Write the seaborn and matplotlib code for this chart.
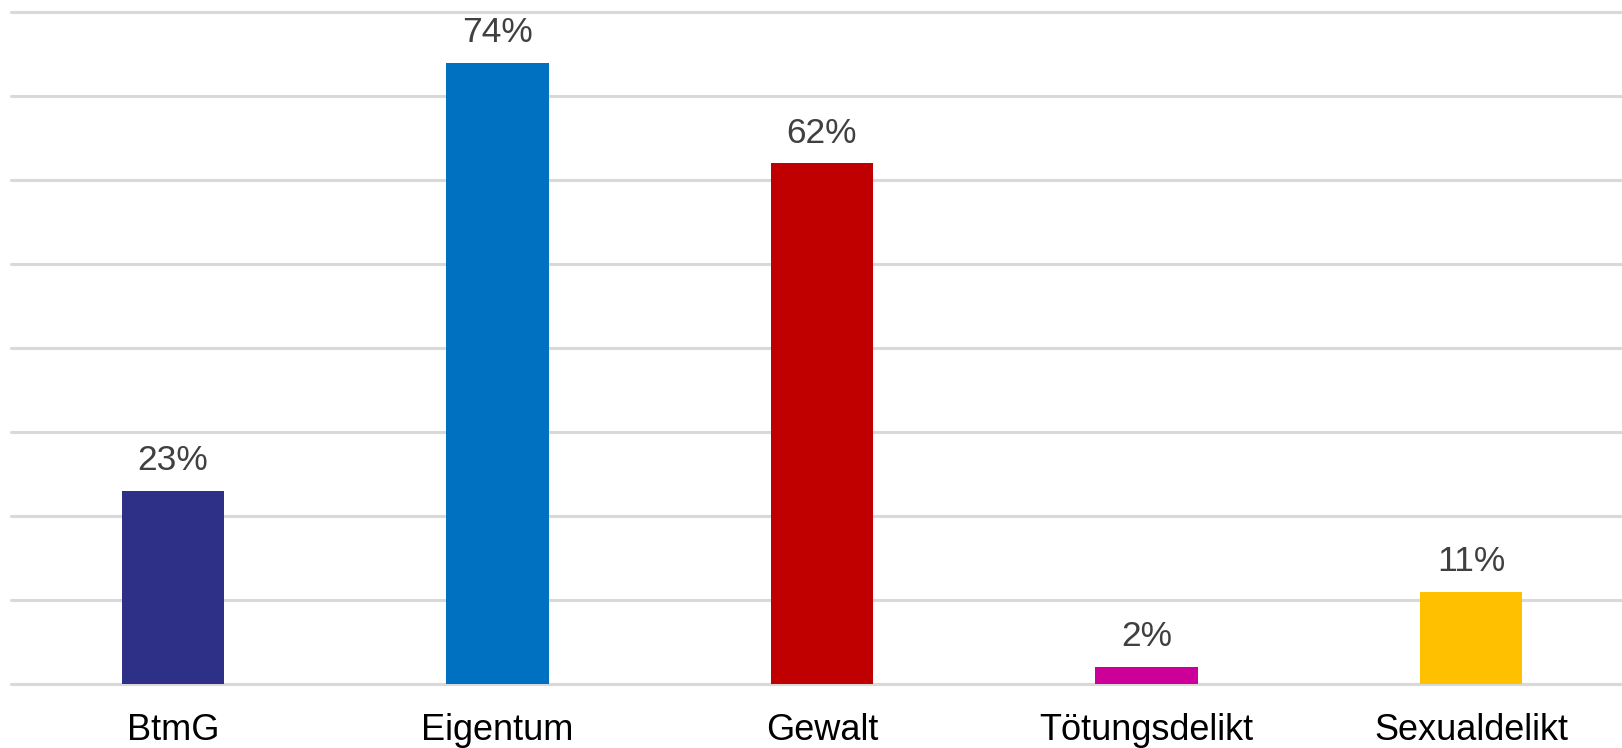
import matplotlib
matplotlib.use("Agg")
import matplotlib.pyplot as plt
import seaborn as sns
import pandas as pd

categories = ["BtmG", "Eigentum", "Gewalt", "Tötungsdelikt", "Sexualdelikt"]
values = [23, 74, 62, 2, 11]
colors = ["#2E3087", "#0070C0", "#C00000", "#CC0099", "#FFC000"]

sns.set_theme(style="white")
plt.rcParams['font.family'] = ['Liberation Sans', 'DejaVu Sans']

df = pd.DataFrame({"cat": categories, "val": values})

W, H = 1622.0, 748.0
fig = plt.figure(figsize=(W / 100, H / 100), dpi=100)
left, right = 10.75, 1633.25
ax = fig.add_axes([left / W, 1 - 684 / H, (right - left) / W, (684 - 8) / H])

sns.barplot(data=df, x="cat", y="val", hue="cat", palette=colors, legend=False,
            width=0.317, ax=ax, saturation=1, zorder=3, linewidth=0)

ax.set_ylim(0, 80.5)
ax.set_xlim(-0.5, 4.5)
for y in range(0, 81, 10):
    ax.axhline(y, color="#d9d9d9", lw=2.2, zorder=1, clip_on=False)

for i, v in enumerate(values):
    ax.annotate(f"{v}%", (i, v), xytext=(0, 15), textcoords="offset points",
                ha="center", va="baseline", fontsize=25.5, color="#404040")

ax.set_yticks([])
ax.set_xlabel("")
ax.set_ylabel("")
ax.tick_params(axis="x", length=0, pad=21, labelsize=26, labelcolor="black")
for s in ax.spines.values():
    s.set_visible(False)

fig.savefig("out.png", dpi=100)
